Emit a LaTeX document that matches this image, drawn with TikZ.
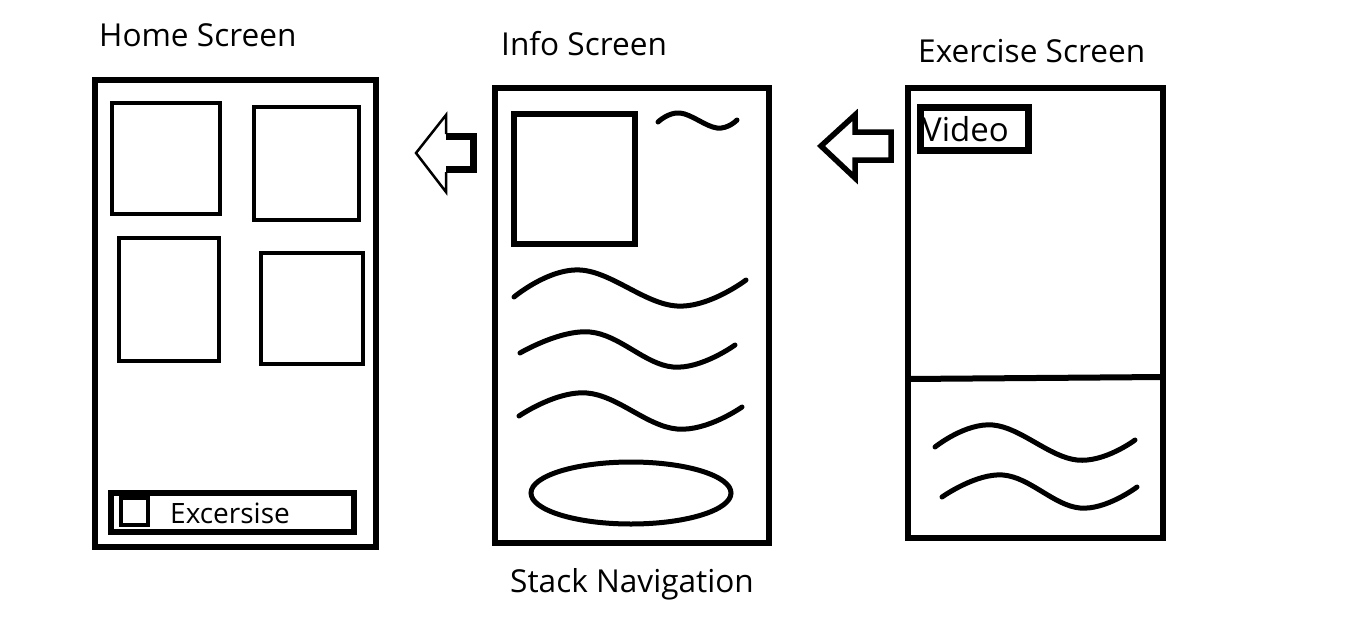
\documentclass[tikz,border=0pt]{standalone}
\usepackage{fontspec}
\setmainfont{Open Sans}
\tikzset{
  screen/.style={line width=6pt},
  tile/.style={line width=4pt},
  wave/.style={line width=5pt, line cap=round},
  label/.style={anchor=base west, inner sep=0pt, font=\fontsize{31.6}{37}\selectfont},
}
\begin{document}
\begin{tikzpicture}[x=1pt, y=-1pt]
  \useasboundingbox (0,0) rectangle (1350,619);
  % home screen
  \node[label] (hometitle) at (99,46) {Home Screen};
  \draw[screen] (95,80) rectangle (376,547);
  \draw[tile] (112,103) rectangle (220,214);
  \draw[tile] (254,107) rectangle (359,220);
  \draw[tile] (119,238) rectangle (219,361);
  \draw[tile] (261,253) rectangle (363,364);
  \draw[screen] (111,493) rectangle (354,532);
  \draw[tile] (121,498) rectangle (148,525);
  \node[label, font=\fontsize{28}{33}\selectfont] (exbutton) at (170,523) {Excersise};
  % arrow info -> home
  \draw[line width=2.5pt] (446,134) -- (446,115) -- (416,153) -- (446,192) -- (446,172);
  \draw[line width=7pt, miter limit=4] (446,136.5) -- (473.5,136.5) -- (473.5,169.5) -- (446,169.5);
  % info screen
  \node[label] (infotitle) at (501,55) {Info Screen};
  \draw[screen] (495,88) rectangle (769,543);
  \draw[screen] (514,114) rectangle (635,244);
  \draw[wave] plot[smooth, tension=0.7] coordinates {(658,122) (680,113) (717,128) (737,120)};
  \draw[wave] plot[smooth, tension=0.7] coordinates {(514,297) (580,270) (677,306) (746,280)};
  \draw[wave] plot[smooth, tension=0.7] coordinates {(520,353) (590,332) (673,367) (735,345)};
  \draw[wave] plot[smooth, tension=0.7] coordinates {(519,416) (587,393) (677,429) (742,407)};
  \draw[wave] (631,493) ellipse[x radius=100, y radius=31];
  \node[label] (stacknav) at (510,592) {Stack Navigation};
  % arrow exercise -> info
  \draw[line width=5.5pt, miter limit=4] (855,132) -- (855,115) -- (821,146) -- (855,178) -- (855,160)
    -- (891,160) -- (891,132) -- cycle;
  % exercise screen
  \node[label] (extitle) at (918,62) {Exercise Screen};
  \draw[screen, line width=6.5pt] (908,88) rectangle (1163,538);
  \draw[screen] (908,379) -- (1163,377);
  \draw[line width=7pt] (920.5,107.5) rectangle (1028,150);
  \node[label, font=\fontsize{33}{39}\selectfont] (video) at (922,141) {Video};
  \draw[wave] plot[smooth, tension=0.7] coordinates {(935,447) (993,425) (1077,460) (1135,440)};
  \draw[wave] plot[smooth, tension=0.7] coordinates {(942,497) (1003,475) (1080,508) (1137,487)};
\end{tikzpicture}
\end{document}
